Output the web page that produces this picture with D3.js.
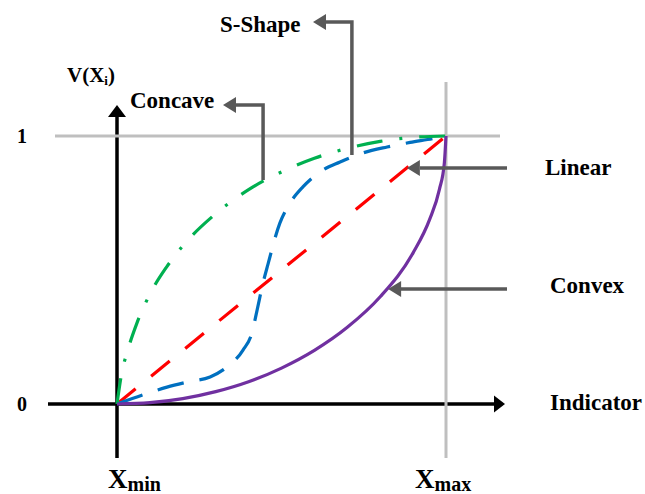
<!DOCTYPE html>
<html>
<head>
<meta charset="utf-8">
<script src="https://cdn.jsdelivr.net/npm/d3@7"></script>
<style>
  body { margin: 0; background: #fff; }
  svg text { font-family: "Liberation Serif", "Times New Roman", serif; font-weight: bold; fill: #000; }
</style>
</head>
<body>
<div id="chart"></div>
<script>
// Value functions (indicator normalised 0..1)
const concaveU = [0, 0.015, 0.03, 0.06, 0.1, 0.15, 0.2, 0.3, 0.4, 0.5, 0.6, 0.7, 0.8, 0.9, 1];
const concaveV = [0, 0.12, 0.19, 0.3, 0.41, 0.51, 0.59, 0.71, 0.8, 0.866, 0.917, 0.954, 0.98, 0.995, 1];

const sShapeU = [0, 0.079, 0.152, 0.213, 0.283, 0.334, 0.383, 0.41, 0.426, 0.441, 0.459, 0.495, 0.526, 0.565, 0.617, 0.678, 0.748, 0.821, 0.891, 0.96, 1];
const sShapeV = [0, 0.034, 0.063, 0.082, 0.101, 0.138, 0.201, 0.265, 0.351, 0.437, 0.522, 0.675, 0.75, 0.81, 0.866, 0.903, 0.937, 0.959, 0.976, 0.99, 1];

const linearU = [0, 1];
const linearV = [0, 1];

const convexU = [0, 0.1, 0.2, 0.3, 0.4, 0.5, 0.6, 0.7, 0.8, 0.9, 0.95, 0.98, 0.995, 1];
const convexV = [0, 0.005, 0.02, 0.046, 0.083, 0.134, 0.2, 0.286, 0.4, 0.564, 0.688, 0.801, 0.9, 1];

const yTickLabels = ["0", "1"];
const xTickLabels = [["X", "min"], ["X", "max"]];

const W = 645, H = 494;

const svg = d3.select("#chart").append("svg")
  .attr("width", W)
  .attr("height", H);

const x = d3.scaleLinear().domain([0, 1]).range([117, 446]);
const y = d3.scaleLinear().domain([0, 1]).range([404, 136]);

const line = d3.line()
  .x((d) => x(d[0]))
  .y((d) => y(d[1]))
  .curve(d3.curveMonotoneX);

// arrow head helper: tip at (tx,ty), pointing in dir
function head(tx, ty, dir, len, half, color) {
  let pts;
  if (dir === "left") pts = [[tx, ty], [tx + len, ty - half], [tx + len, ty + half]];
  if (dir === "right") pts = [[tx, ty], [tx - len, ty - half], [tx - len, ty + half]];
  if (dir === "up") pts = [[tx, ty], [tx - half, ty + len], [tx + half, ty + len]];
  svg.append("polygon").attr("points", pts.map((p) => p.join(",")).join(" ")).attr("fill", color);
}

// 1. axes
svg.append("line")
  .attr("x1", x(0)).attr("x2", x(0))
  .attr("y1", 458).attr("y2", 114)
  .attr("stroke", "#000").attr("stroke-width", 3.5);
head(x(0), 105, "up", 12, 9, "#000");

svg.append("line")
  .attr("x1", 48).attr("x2", 496)
  .attr("y1", y(0)).attr("y2", y(0))
  .attr("stroke", "#000").attr("stroke-width", 3.5);
head(505, y(0), "right", 11, 8.5, "#000");

// 2. grey reference lines at V=1 and X=Xmax
svg.append("line")
  .attr("x1", 55).attr("x2", 500)
  .attr("y1", y(1)).attr("y2", y(1))
  .attr("stroke", "#bfbfbf").attr("stroke-width", 3);
svg.append("line")
  .attr("x1", x(1)).attr("x2", x(1))
  .attr("y1", 82).attr("y2", 458)
  .attr("stroke", "#bfbfbf").attr("stroke-width", 3);

// 3. curves
const curves = [
  { u: linearU, v: linearV, color: "#ff0000", dash: "24,20" },
  { u: sShapeU, v: sShapeV, color: "#0070c0", dash: "27,16" },
  { u: concaveU, v: concaveV, color: "#00b050", dash: "26,17,3,17" },
  { u: convexU, v: convexV, color: "#7030a0", dash: null },
];

curves.forEach((c) => {
  svg.append("path")
    .datum(d3.zip(c.u, c.v))
    .attr("d", line)
    .attr("fill", "none")
    .attr("stroke", c.color)
    .attr("stroke-width", 3.2)
    .attr("stroke-dasharray", c.dash);
});

// 4. connectors
const grey = "#595959";
function connector(pts, tip, dir) {
  svg.append("path")
    .attr("d", d3.line()(pts))
    .attr("fill", "none")
    .attr("stroke", grey)
    .attr("stroke-width", 3.5);
  head(tip[0], tip[1], dir, 13, 8, grey);
}
connector([[x(0.444), y(0.836)], [x(0.444), 105], [236, 105]], [223, 105], "left");
connector([[x(0.714), y(0.929)], [x(0.714), 22], [326, 22]], [313, 22], "left");
connector([[507, y(0.881)], [420, y(0.881)]], [x(0.881), y(0.881)], "left");
connector([[507, y(0.429)], [401, y(0.429)]], [x(0.824), y(0.429)], "left");

// 5. text
const fs = 23;
function label(txt, tx, ty, size) {
  return svg.append("text").attr("x", tx).attr("y", ty)
    .attr("font-size", size || fs).text(txt);
}
label("Concave", 130, 108);
label("S-Shape", 220, 32);
label("Linear", 545, 175);
label("Convex", 550, 293);
label("Indicator", 550, 410);

const vLab = svg.append("text").attr("x", 67).attr("y", 82).attr("font-size", 21);
vLab.append("tspan").text("V(X");
vLab.append("tspan").attr("font-size", 13).attr("dy", 3).text("i");
vLab.append("tspan").attr("dy", -3).text(")");

yTickLabels.forEach((t, i) => {
  svg.append("text").attr("x", 17).attr("y", y(i) + 7).attr("font-size", 20).text(t);
});

const xLabelShift = [-9, -31];
xTickLabels.forEach((t, i) => {
  const tx = svg.append("text")
    .attr("x", x(i) + xLabelShift[i]).attr("y", 488)
    .attr("font-size", 27);
  tx.append("tspan").text(t[0]);
  tx.append("tspan").attr("font-size", 20).attr("dy", 3).text(t[1]);
});
</script>
</body>
</html>
